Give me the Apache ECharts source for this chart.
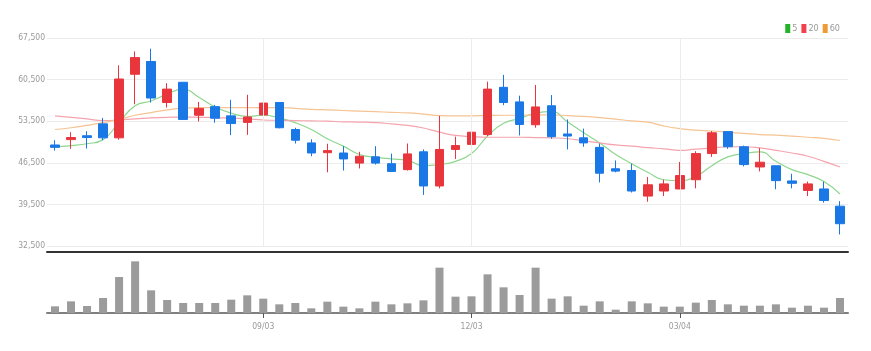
<!DOCTYPE html>
<html>
<head>
<meta charset="utf-8">
<script src="https://cdn.jsdelivr.net/npm/echarts@6/dist/echarts.min.js"></script>
<style>
  html, body { margin: 0; padding: 0; background: #fff; }
  #chart { width: 871px; height: 351px; }
</style>
</head>
<body>
<div id="chart"></div>
<script>
// weekly candles
var dates = [
  "2003-06-02", "2003-06-09", "2003-06-16", "2003-06-23", "2003-06-30", "2003-07-07", "2003-07-14", "2003-07-21",
  "2003-07-28", "2003-08-04", "2003-08-11", "2003-08-18", "2003-08-25", "2003-09-01", "2003-09-08", "2003-09-15",
  "2003-09-22", "2003-09-29", "2003-10-06", "2003-10-13", "2003-10-20", "2003-10-27", "2003-11-03", "2003-11-10",
  "2003-11-17", "2003-11-24", "2003-12-01", "2003-12-08", "2003-12-15", "2003-12-22", "2003-12-29", "2004-01-05",
  "2004-01-12", "2004-01-19", "2004-01-26", "2004-02-02", "2004-02-09", "2004-02-16", "2004-02-23", "2004-03-01",
  "2004-03-08", "2004-03-15", "2004-03-22", "2004-03-29", "2004-04-05", "2004-04-12", "2004-04-19", "2004-04-26",
  "2004-05-03", "2004-05-10"
];
// which dates get a label / grid line
var labelIdx = [13, 26, 39];

var open  = [49500, 50400, 51050, 53050, 50700, 61400, 63550, 56650, 60050, 54500, 55950, 54400, 53300, 54550, 56650, 52100, 49850, 48200, 48150, 46450, 47500, 46350, 45350, 48350, 42600,
             48750, 49600, 51250, 59200, 56750, 52900, 56100, 51350, 50700, 49100, 45500, 45200, 40900, 41750, 42100, 43650, 48050, 51750, 49200, 45800, 46000, 43450, 41850, 42100, 39200];
var close = [49100, 50750, 50750, 50700, 60600, 64200, 57400, 58900, 53800, 55650, 54000, 53100, 54200, 56550, 52400, 50300, 48150, 48550, 47150, 47600, 46450, 45050, 48000, 42600, 48750,
             49400, 51650, 58900, 56650, 52950, 55900, 50900, 51000, 49850, 44750, 45100, 41750, 42800, 42950, 44350, 48050, 51550, 49200, 46200, 46600, 43500, 43050, 42950, 40150, 36250];
var low   = [48550, 48850, 48900, 50300, 50400, 56350, 56650, 55800, 53700, 53450, 53250, 51150, 51200, 52400, 52300, 49750, 47600, 44900, 45200, 45550, 46200, 44950, 45200, 41100, 42200,
             47150, 47900, 51000, 56200, 51100, 52400, 50550, 48750, 49200, 43200, 44900, 41500, 39950, 40900, 42050, 42200, 47500, 48850, 45900, 45050, 42050, 42200, 40900, 39800, 34450];
var high  = [50300, 51650, 51800, 54050, 62900, 65250, 65700, 59900, 60050, 56750, 56250, 57100, 57950, 57900, 56650, 52400, 50450, 49700, 49300, 48350, 49300, 48050, 49750, 48750, 54400,
             50900, 52400, 60150, 61300, 57800, 59600, 57900, 53800, 52250, 49750, 46900, 46350, 44100, 43650, 46650, 48450, 51850, 51750, 49400, 49000, 46000, 44650, 43350, 43350, 40050];

var ma5  = [49200, 49400, 49700, 50400, 53300, 56100, 56900, 58050, 58900, 57500, 55900, 54850, 54300, 54500, 54050, 53250, 52100, 50550, 49300, 47900, 47450, 47150, 46900, 46000, 46200,
            46750, 48050, 51000, 53150, 53950, 54850, 55100, 53350, 51550, 49850, 47900, 46350, 44900, 43650, 43500, 44200, 46000, 47500, 48050, 48350, 46750, 45350, 44500, 43350, 41250];
var ma20 = [54400, 54150, 53900, 53600, 53700, 53900, 54050, 54150, 54200, 54150, 54100, 54000, 53900, 53700, 53650, 53600, 53550, 53500, 53400, 53350, 53250, 53050, 52800, 52350, 51650,
            51100, 50900, 50800, 50800, 50800, 50750, 50700, 50550, 50200, 49850, 49500, 49300, 49050, 48850, 48600, 48800, 49000, 49200, 49200, 49000, 48600, 48150, 47600, 46750, 45800];
var ma60 = [52100, 52400, 52800, 53250, 53800, 54500, 54950, 55400, 55700, 55800, 55800, 55800, 55800, 55800, 55800, 55650, 55500, 55400, 55300, 55200, 55100, 55000, 54900, 54700, 54450,
            54400, 54400, 54450, 54500, 54500, 54550, 54550, 54450, 54300, 54100, 53850, 53550, 53350, 52700, 52250, 52000, 51850, 51650, 51450, 51250, 51150, 51000, 50800, 50600, 50250];

var volume = [20000, 35000, 21000, 45000, 108000, 155000, 68000, 39000, 30000, 30000, 30000, 40000, 53000, 43000, 26000, 30000, 14000, 34000, 19000, 14000, 34000, 26000, 29000, 38000, 136000,
              49000, 50000, 116000, 77000, 54000, 136000, 43000, 50000, 22000, 35000, 10000, 35000, 29000, 19000, 19000, 31000, 39000, 26000, 22000, 22000, 26000, 16000, 22000, 16000, 45000];

var yTicks = [32500, 39500, 46500, 53500, 60500, 67500];

var UP = "#e8363c", DOWN = "#1a78e6";
var FONT = "'DejaVu Sans Condensed', 'Liberation Sans Narrow', sans-serif";

var candles = open.map(function (o, i) { return [o, close[i], low[i], high[i]]; });

function showLabel(index) { return labelIdx.indexOf(index) >= 0; }
function fmtDate(v) { return v.slice(5, 7) + "/" + v.slice(2, 4); }

var chart = echarts.init(document.getElementById("chart"));
chart.setOption({
  animation: false,
  legend: {
    right: 26,
    top: 19,
    icon: "rect",
    itemWidth: 5,
    itemHeight: 9,
    itemGap: 4,
    textStyle: { fontSize: 9, color: "#999", fontFamily: FONT, padding: [0, 0, 0, -3] },
    data: ["5", "20", "60"]
  },
  grid: [
    { left: 47, right: 23, top: 38, height: 208 },
    { left: 47, right: 23, top: 254, height: 59 }
  ],
  xAxis: [
    {
      type: "category",
      gridIndex: 0,
      data: dates,
      offset: 6,
      axisLine: { lineStyle: { color: "#333", width: 2 } },
      axisTick: { show: false },
      axisLabel: { show: false },
      splitLine: { show: false }
    },
    {
      type: "category",
      gridIndex: 1,
      data: dates,
      axisLine: { lineStyle: { color: "#808080", width: 2 } },
      axisTick: {
        show: true,
        alignWithLabel: true,
        interval: showLabel,
        length: 5,
        lineStyle: { color: "#555" }
      },
      axisLabel: {
        interval: showLabel,
        formatter: fmtDate,
        color: "#999",
        fontSize: 8.5,
        fontFamily: FONT,
        margin: 9
      },
      splitLine: { show: false }
    }
  ],
  yAxis: [
    {
      type: "value",
      gridIndex: 0,
      min: yTicks[0],
      max: yTicks[yTicks.length - 1],
      interval: 7000,
      axisLine: { show: false },
      axisTick: { show: false },
      axisLabel: {
        color: "#999",
        fontSize: 8.5,
        fontFamily: FONT,
        margin: 2,
        formatter: function (v) { return v.toLocaleString("en-US"); }
      },
      splitLine: { lineStyle: { color: "#ececec" } }
    },
    {
      type: "value",
      gridIndex: 1,
      min: 0,
      max: 177000,
      show: false,
      splitLine: { show: false }
    }
  ],
  series: [
    {
      name: "5",
      type: "line",
      data: ma5,
      smooth: true,
      symbol: "none",
      color: "#22b327",
      lineStyle: { color: "#8ed68e", width: 1.2 },
      z: 1
    },
    {
      name: "20",
      type: "line",
      data: ma20,
      smooth: true,
      symbol: "none",
      color: "#f2404c",
      lineStyle: { color: "#f5a4ad", width: 1.2 },
      z: 1
    },
    {
      name: "60",
      type: "line",
      data: ma60,
      smooth: true,
      symbol: "none",
      color: "#ee9a35",
      lineStyle: { color: "#f6c392", width: 1.2 },
      z: 1
    },
    {
      name: "price",
      type: "candlestick",
      data: candles,
      barWidth: 9,
      itemStyle: {
        color: UP,
        color0: DOWN,
        borderColor: UP,
        borderColor0: DOWN,
        borderWidth: 1
      },
      markLine: {
        silent: true,
        symbol: "none",
        label: { show: false },
        lineStyle: { color: "#ececec", type: "solid", width: 1 },
        data: labelIdx.map(function (i) { return { xAxis: dates[i] }; })
      },
      z: 3
    },
    {
      name: "volume",
      type: "bar",
      xAxisIndex: 1,
      yAxisIndex: 1,
      data: volume,
      barWidth: 8,
      itemStyle: { color: "#9b9b9b" }
    }
  ]
});
</script>
</body>
</html>
